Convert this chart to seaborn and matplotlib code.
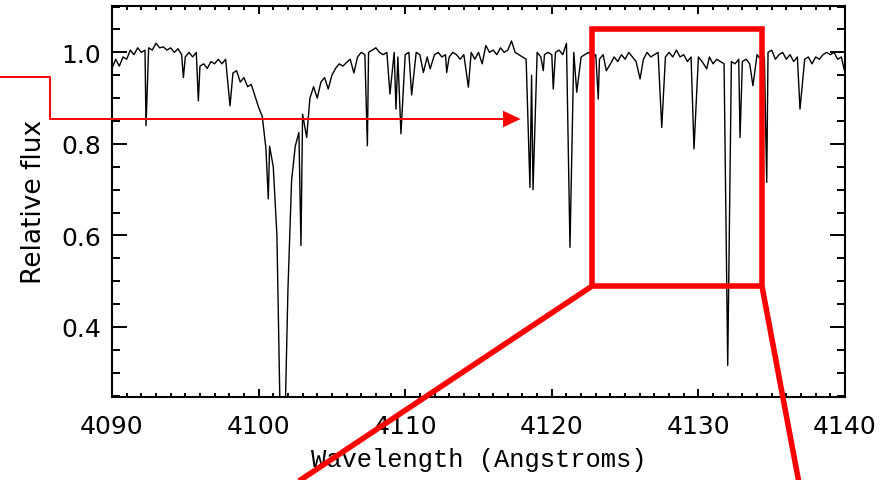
import numpy as np
import pandas as pd
import seaborn as sns
import matplotlib.pyplot as plt
from matplotlib.ticker import MultipleLocator, FormatStrFormatter
from matplotlib.lines import Line2D
from matplotlib.patches import Rectangle, Polygon

# continuum (incl. H-delta wings) read every 0.25 A from 4090 to 4140
grid_start = 4090.0
grid_step = 0.25
grid_flux = [
    0.965, 0.985, 0.970, 0.990, 0.985, 1.005, 0.995, 1.010, 1.000, 1.005,
    1.010, 1.005, 1.020, 1.010, 1.012, 1.005, 1.010, 1.000, 1.008, 0.995,
    0.990, 1.000, 0.990, 1.000, 0.970, 0.975, 0.965, 0.980, 0.975, 0.985,
    0.975, 0.985, 0.975, 0.955, 0.960, 0.935, 0.945, 0.925, 0.930, 0.905,
    0.880, 0.860, 0.790, 0.795, 0.750, 0.600, 0.150, 0.120, 0.480, 0.720,
    0.795, 0.825, 0.865, 0.885, 0.900, 0.925, 0.900, 0.935, 0.945, 0.920,
    0.950, 0.965, 0.975, 0.970, 0.978, 0.985, 0.955, 0.990, 1.000, 0.995,
    1.000, 1.005, 1.010, 1.000, 0.995, 1.000, 0.995, 1.000, 0.990, 1.000,
    0.995, 1.000, 0.990, 1.000, 0.995, 0.985, 0.990, 0.995, 0.995, 1.000,
    0.990, 0.995, 0.990, 1.000, 0.995, 0.985, 0.995, 0.990, 1.000, 0.985,
    1.000, 0.975, 1.015, 1.000, 1.005, 0.995, 1.010, 1.000, 1.005, 1.025,
    1.000, 0.995, 0.990, 0.985, 0.965, 1.000, 1.000, 0.990, 0.995, 1.000,
    0.995, 1.000, 1.005, 0.995, 1.020, 0.990, 1.000, 1.000, 0.990, 0.995,
    1.000, 0.990, 0.995, 0.985, 0.995, 0.985, 0.975, 0.990, 0.980, 0.995,
    0.985, 1.000, 0.990, 0.980, 0.990, 0.985, 1.000, 0.990, 0.995, 1.000,
    0.985, 0.990, 1.000, 0.990, 1.005, 0.990, 0.995, 0.980, 0.990, 0.995,
    0.990, 0.980, 0.985, 0.990, 0.975, 0.985, 0.980, 0.975, 0.970, 0.980,
    0.975, 0.985, 0.980, 0.985, 0.975, 0.990, 0.995, 0.985, 0.990, 1.000,
    1.005, 0.985, 0.995, 1.000, 0.985, 0.995, 0.980, 0.990, 0.995, 0.985,
    0.990, 0.975, 0.990, 0.985, 0.995, 1.000, 0.995, 1.000, 0.985, 0.990,
    0.955,
]

# absorption line minima
line_wave = [4092.32, 4094.87, 4095.89, 4098.05, 4100.66, 4102.89, 4103.28,
             4107.42, 4108.96, 4109.37, 4109.71, 4110.44, 4111.24, 4111.70,
             4112.83, 4114.31, 4118.51, 4118.62, 4118.72, 4119.42, 4120.10,
             4121.24, 4121.70, 4123.17, 4123.72, 4126.02, 4127.50, 4129.70,
             4130.57, 4132.00, 4132.84, 4133.72, 4134.66, 4136.93]
line_flux = [0.840, 0.945, 0.894, 0.883, 0.680, 0.578, 0.814,
             0.796, 0.909, 0.876, 0.822, 0.907, 0.956, 0.964,
             0.956, 0.924, 0.705, 0.950, 0.700, 0.960, 0.920,
             0.574, 0.913, 0.898, 0.960, 0.942, 0.836, 0.789,
             0.964, 0.316, 0.814, 0.927, 0.716, 0.876]

grid_wave = grid_start + grid_step * np.arange(len(grid_flux))
lw_arr = np.array(line_wave)
keep = [np.min(np.abs(lw_arr - w)) > 0.07 for w in grid_wave]
spec = pd.DataFrame({
    'wave': np.concatenate([grid_wave[keep], lw_arr]),
    'flux': np.concatenate([np.array(grid_flux)[keep], line_flux]),
}).sort_values('wave')

sns.set_theme(style="ticks")
plt.rcParams['font.family'] = ['DejaVu Sans']

W, H = 896, 481
fig = plt.figure(figsize=(W / 100, H / 100), dpi=100)
ax = fig.add_axes([112 / W, 1 - 398 / H, (845 - 112) / W, (398 - 6.7) / H])

sns.lineplot(data=spec, x='wave', y='flux', estimator=None, sort=True,
             color='black', linewidth=1.0, ax=ax)

ax.set_xlim(4090, 4140)
ax.set_ylim(0.247, 1.102)
ax.xaxis.set_major_locator(MultipleLocator(10))
ax.xaxis.set_minor_locator(MultipleLocator(1))
ax.yaxis.set_major_locator(MultipleLocator(0.2))
ax.yaxis.set_minor_locator(MultipleLocator(0.05))
ax.yaxis.set_major_formatter(FormatStrFormatter('%.1f'))
ax.xaxis.set_major_formatter(FormatStrFormatter('%d'))

ax.tick_params(axis='both', which='both', direction='in', top=True, right=True,
               width=1.4, color='black', labelcolor='black')
ax.tick_params(axis='x', which='major', length=6, pad=12, labelsize=18)
ax.tick_params(axis='x', which='minor', length=3.2)
ax.tick_params(axis='y', which='major', length=10.8, pad=8, labelsize=18)
ax.tick_params(axis='y', which='minor', length=5.5)
for s in ax.spines.values():
    s.set_linewidth(1.5)
    s.set_color('black')

ax.set_xlabel('Wavelength (Angstroms)', family='Liberation Mono', fontsize=18.4,
              labelpad=7, color='black')
ax.set_ylabel('Relative flux', fontsize=19, labelpad=10, color='black')


# red overlay in pixel coordinates of the picture
def P(x, y):
    return (x / W, 1 - y / H)


red = '#ff0000'
x0, y0 = P(591.7, 287.3)
x1, y1 = P(762, 30.3)
fig.add_artist(Rectangle((x0, y0), x1 - x0, y1 - y0, transform=fig.transFigure,
                         fill=False, edgecolor=red, linewidth=4, joinstyle='miter'))
for (ax_, ay_), (bx_, by_) in [((591.7, 287.3), (296, 484)), ((762, 287.3), (799, 484))]:
    a, b = P(ax_, ay_), P(bx_, by_)
    fig.add_artist(Line2D([a[0], b[0]], [a[1], b[1]], transform=fig.transFigure,
                          color=red, linewidth=4, solid_capstyle='butt'))

path = [P(-2, 78.3), P(50, 78.3), P(50, 120), P(505, 120)]
fig.add_artist(Line2D([p[0] for p in path], [p[1] for p in path],
                      transform=fig.transFigure, color=red, linewidth=1.4))
fig.add_artist(Polygon([P(503, 111.7), P(520.7, 120), P(503, 128.3)], closed=True,
                       transform=fig.transFigure, facecolor=red, edgecolor='none'))

fig.savefig('out.png', dpi=100)
